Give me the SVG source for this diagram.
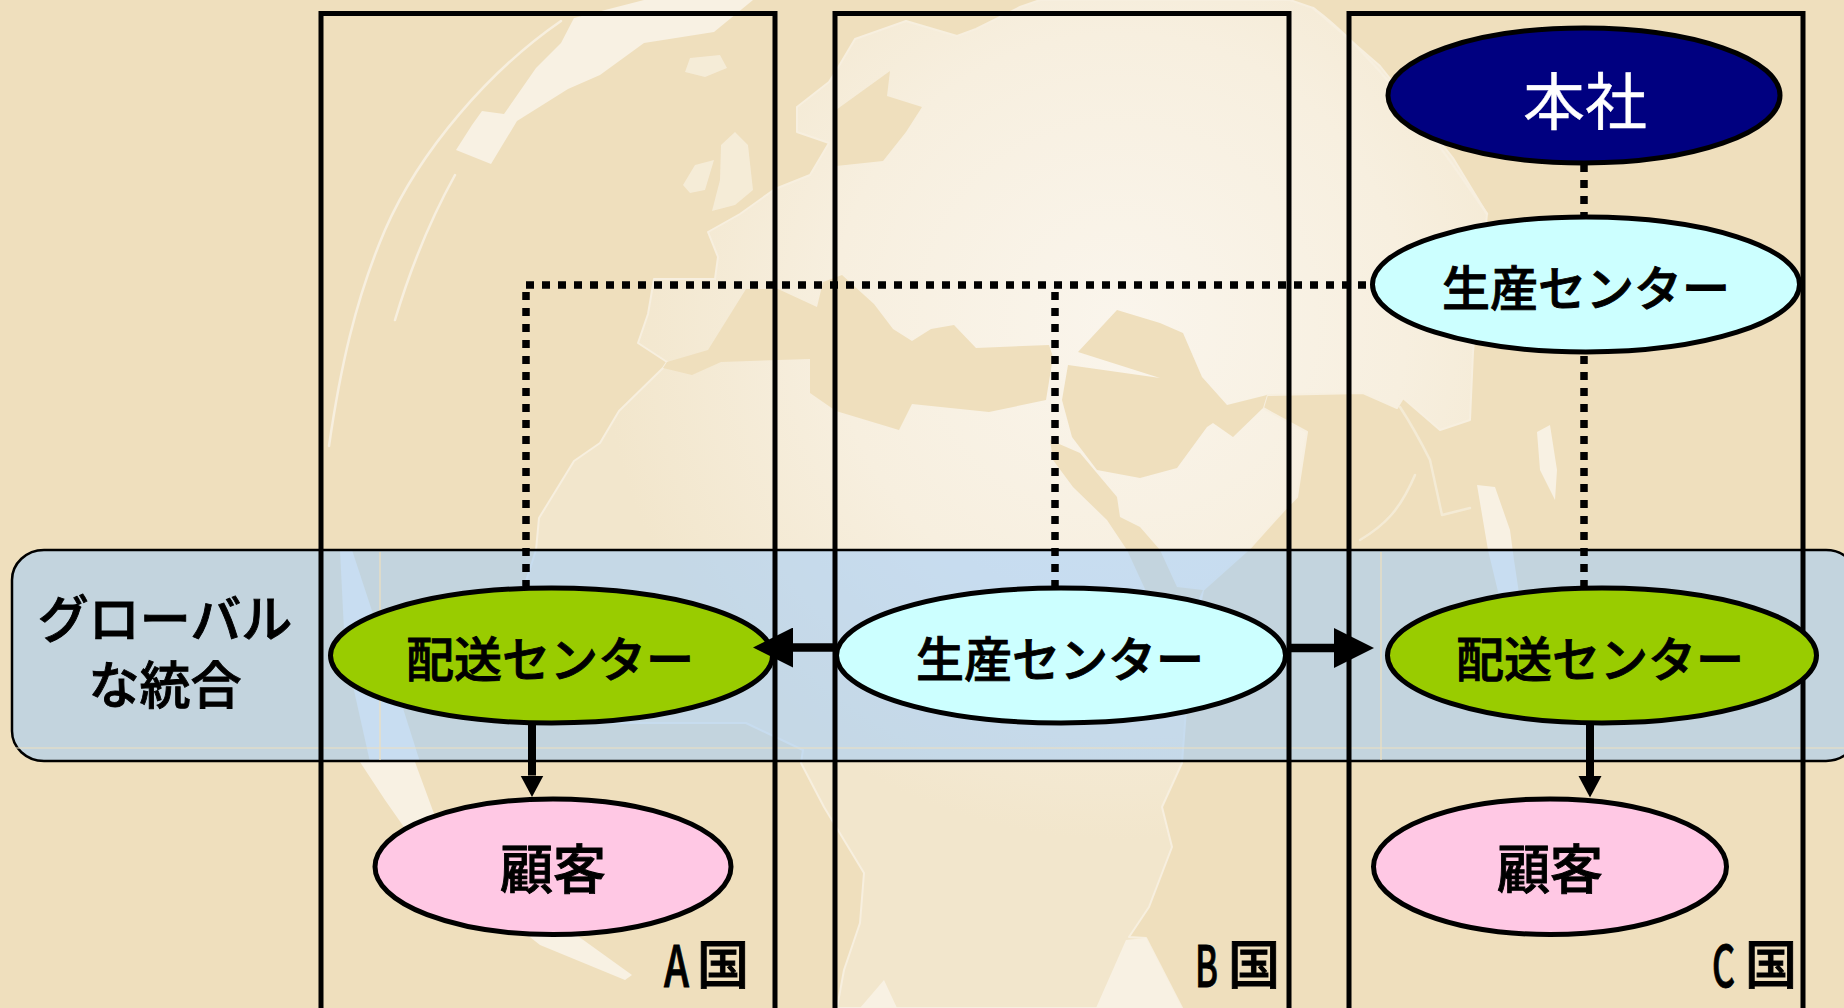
<svg xmlns="http://www.w3.org/2000/svg" width="1844" height="1008" viewBox="0 0 1844 1008">
<style>
.sea{fill:#efdfbd}
.glow{fill:#f8f1e3}
.streak{fill:none;stroke:#f7efdf;stroke-width:2.500;stroke-linejoin:round;stroke-linecap:round}
.seam{fill:none;stroke:#eedfbf;stroke-width:1.2}
.col{fill:none;stroke:#000;stroke-width:5}
.node{stroke:#000;stroke-width:5}
.t{font-family:"Noto Sans CJK JP","Noto Sans CJK SC",sans-serif;font-size:48px;fill:#000;stroke:#000;stroke-width:.9;text-anchor:middle;font-weight:500}
.c{font-family:"Noto Sans CJK JP",sans-serif;font-size:52px;fill:#000;stroke:#000;stroke-width:.9;font-weight:500}
.dot{fill:none;stroke:#000;stroke-width:7.5;stroke-dasharray:8 8}
.big{fill:none;stroke:#000;stroke-width:8.5;marker-end:url(#bigHead)}
.small{fill:none;stroke:#000;stroke-width:8;marker-end:url(#smallHead)}
</style>
<defs>
<radialGradient id="land" gradientUnits="userSpaceOnUse" cx="1120" cy="320" r="520">
<stop offset="0" stop-color="#faf5ec"/><stop offset="0.55" stop-color="#f7efdf"/><stop offset="1" stop-color="#f2e6cc"/>
</radialGradient>
<marker id="bigHead" markerUnits="userSpaceOnUse" markerWidth="40" markerHeight="40" refX="0" refY="20" orient="auto"><path d="M0,0L40,20L0,40z" fill="#000"/></marker>
<marker id="smallHead" markerUnits="userSpaceOnUse" markerWidth="22" markerHeight="24" refX="0" refY="12" orient="auto"><path d="M0,.5L21.500,12L0,23.500z" fill="#000"/></marker>
</defs>

<g id="background">
<rect width="1844" height="1008" class="sea"/>
<path fill="url(#land)" stroke="#f7efdf" stroke-width="2" stroke-linejoin="round" d="M836,71 855,39 906,21 957,36 976,29 1020,7 1040,0 1290,0 1313,8 1380,66 1453,158 1487,214 1478,300 1473,352 1470,420 1440,430 1403,398 1397,408 1363,393 1267,395 1263,408 1307,432 1297,497 1287,507 1250,548 1203,590 1190,655 1182,763 1162,807 1172,847 1149,907 1129,937 1146,938 1182,1008 837,1008 844,970 860,923 864,873 824,807 801,763 803,750 746,723 600,723 520,600 536,550 539,518 574,461 600,443 619,411 663,368 667,362 638,343 648,314 654,279 715,279 718,257 708,232 740,214 775,189 810,175 829,143 797,132 797,107 829,82z"/>
<path class="sea" d="M842,275 874,304 893,329 912,341 931,329 954,325 976,348 1049,345 1053,357 1046,400 989,412 912,404 899,430 836,411 810,393 810,359 721,362 692,375 663,368 667,362 708,350 746,289 778,289 817,307 823,282z"/>
<path class="sea" d="M890,71 887,96 922,107 906,132 883,161 836,166 836,110z"/>
<path class="sea" d="M1117,310 1160,323 1183,333 1202,377 1227,405 1267,395 1263,408 1233,437 1213,423 1207,427 1177,468 1140,478 1097,470 1072,437 1062,400 1068,365 1160,378 1078,352z"/>
<path class="sea" d="M1050,440 1080,453 1117,497 1120,517 1140,527 1160,550 1177,587 1203,590 1180,640 1150,600 1127,550 1107,520 1073,487 1053,460z"/>
<path class="glow" d="M574,18 644,0 753,0 714,32 644,43 600,75 568,89 517,121 491,164 456,150 472,125 482,111 504,114 536,68 561,43z"/>
<path class="glow" opacity=".7" d="M690,58 720,55 727,68 705,77 685,72z M721,145 735,132 748,145 753,190 735,205 712,211 720,180z M683,185 695,165 714,160 705,190 690,193z"/>
<path class="glow" d="M1477,485 1495,487 1510,530 1514,560 1520,600 1500,600 1488,550z M1537,432 1550,425 1557,470 1555,500 1540,470z"/>
<path class="glow" d="M1126,940 1146,938 1182,1008 1096,1008z M884,980 897,1008 860,1008z"/>
<path class="glow" d="M360,762 415,762 440,830 500,880 632,975 625,980 540,945 420,850 385,800z"/>
<path class="glow" d="M340,550 352,550 375,620 420,762 370,762 345,650z"/>
<path class="streak" d="M561,21 C490,70 420,150 385,230 C355,300 340,370 329,446M455,175 C430,220 410,270 395,320"/>
<path class="streak" d="M1313,8 C1370,50 1430,130 1487,214"/>
<path class="streak" opacity=".7" d="M1400,407 C1415,430 1425,450 1430,460 L1442,515 1470,508M1415,475 C1400,510 1385,525 1360,540"/>
</g>

<g id="integration-band">
<rect x="12" y="550" width="1846" height="211" rx="32" ry="30" fill="#97c9ff" fill-opacity=".5" stroke="#000" stroke-width="2.500"/>
<path class="seam" d="M14,748H1844M380,552V760M1381,552V760"/>
</g>

<g id="columns">
<path class="col" d="M321,1012V13.500H775V1012"/>
<path class="col" d="M835,1012V13.500H1289V1012"/>
<path class="col" d="M1349,1012V13.500H1803V1012"/>
</g>

<g id="node-hq"><ellipse class="node" cx="1584" cy="95.500" rx="196" ry="67.500" fill="#000080"/><text class="t" x="1585" y="125" style="font-size:62px;fill:#fff;stroke:#fff;stroke-width:.4;font-weight:400">本社</text></g>
<g id="node-prod-c"><ellipse class="node" cx="1586" cy="284.500" rx="213.500" ry="67.500" fill="#ccffff"/><text class="t" x="1586" y="306">生産センター</text></g>
<g id="node-dist-a"><ellipse class="node" cx="551.500" cy="655.500" rx="221" ry="67.500" fill="#99cc00"/><text class="t" x="550" y="677">配送センター</text></g>
<g id="node-prod-b"><ellipse class="node" cx="1061" cy="655.500" rx="224.500" ry="67.500" fill="#ccffff"/><text class="t" x="1060" y="677">生産センター</text></g>
<g id="node-dist-c"><ellipse class="node" cx="1602" cy="655.500" rx="214.500" ry="67.500" fill="#99cc00"/><text class="t" x="1600" y="677">配送センター</text></g>
<g id="node-cust-a"><ellipse class="node" cx="553" cy="866.700" rx="178" ry="67.800" fill="#ffc8e4"/><text class="t" x="553" y="889" style="font-size:53px">顧客</text></g>
<g id="node-cust-c"><ellipse class="node" cx="1550" cy="866.700" rx="176.500" ry="67.800" fill="#ffc8e4"/><text class="t" x="1550" y="889" style="font-size:53px">顧客</text></g>

<g id="label-global"><text class="t" x="165" y="638" style="font-size:51px">グローバル</text><text class="t" x="165" y="704" style="font-size:51px">な統合</text></g>
<g id="label-a"><text class="c"><tspan x="664" y="987" style="font-size:57px" textLength="25" lengthAdjust="spacingAndGlyphs">A</tspan><tspan x="697" y="984">国</tspan></text></g>
<g id="label-b"><text class="c"><tspan x="1195" y="987" style="font-size:57px" textLength="23" lengthAdjust="spacingAndGlyphs">B</tspan><tspan x="1228" y="984">国</tspan></text></g>
<g id="label-c"><text class="c"><tspan x="1712" y="987" style="font-size:57px" textLength="23" lengthAdjust="spacingAndGlyphs">C</tspan><tspan x="1745" y="984">国</tspan></text></g>

<g id="connectors">
<path class="dot" d="M1584,164V215"/>
<path class="dot" d="M1584,356V586"/>
<path class="dot" d="M526,285H1372"/>
<path class="dot" d="M526,292V586"/>
<path class="dot" d="M1055,292V586"/>
<path class="big" d="M835,647.500H793"/>
<path class="big" d="M1288,648H1334"/>
<path class="small" d="M532,725V775.500"/>
<path class="small" d="M1590,725V776"/>
</g>
</svg>
